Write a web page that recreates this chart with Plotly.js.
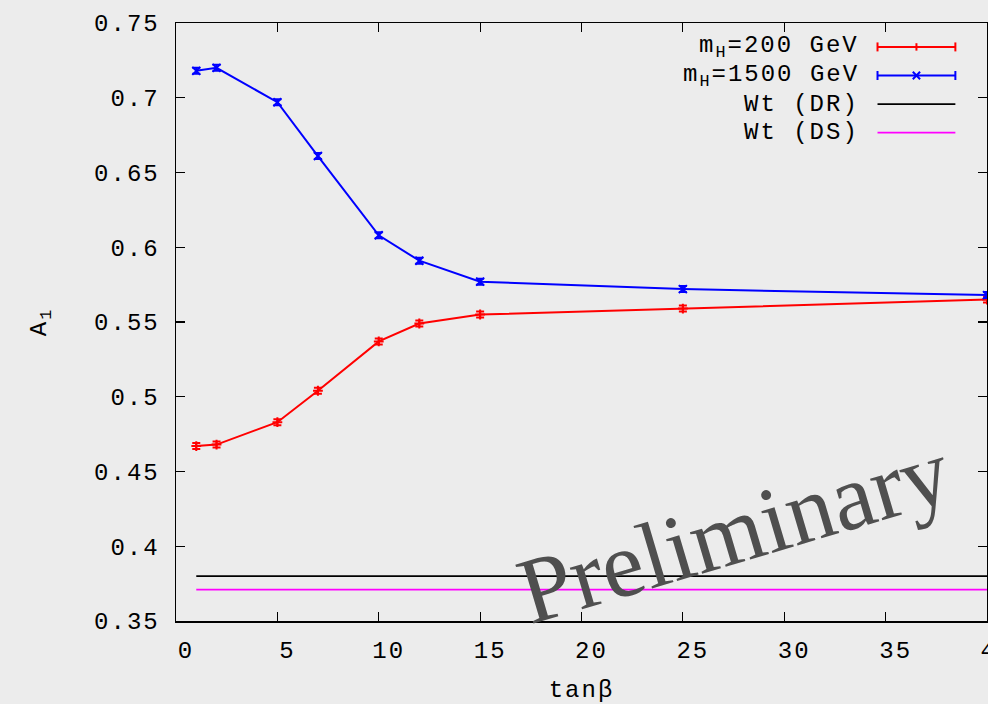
<!DOCTYPE html>
<html>
<head>
<meta charset="utf-8">
<script src="https://cdn.plot.ly/plotly-3.0.1.min.js"></script>
<style>
  html, body { margin: 0; padding: 0; background: #ececec; }
  #chart { width: 988px; height: 704px; }
  /* wide gnuplot-like spacing for the monospace labels (also applies while Plotly measures text) */
  text { letter-spacing: 2px; }
  #chart g.annotation[data-index="4"] text { letter-spacing: 0; }
</style>
</head>
<body>
<div id="chart"></div>
<script>
// tan(beta) scan points
const tanBeta = [1, 2, 5, 7, 10, 12, 15, 25, 40];

// A_1 for m_H = 200 GeV and its statistical uncertainty
const a1Mh200 = [0.467, 0.468, 0.483, 0.504, 0.537, 0.549, 0.555, 0.559, 0.565];
const a1Mh200Err = [0.002, 0.002, 0.002, 0.002, 0.002, 0.002, 0.002, 0.002, 0.002];

// A_1 for m_H = 1500 GeV and its statistical uncertainty
const a1Mh1500 = [0.718, 0.720, 0.697, 0.661, 0.608, 0.591, 0.577, 0.572, 0.568];
const a1Mh1500Err = [0.002, 0.002, 0.002, 0.002, 0.002, 0.002, 0.002, 0.002, 0.002];

// Wt reference values (diagram removal / diagram subtraction)
const wtRange = [1, 40];
const wtDR = [0.380, 0.380];
const wtDS = [0.371, 0.371];

// axis ticks
const xTicks = [0, 5, 10, 15, 20, 25, 30, 35, 40];
const yTicks = [0.35, 0.4, 0.45, 0.5, 0.55, 0.6, 0.65, 0.7, 0.75];
const yTickText = ['0.35', '0.4', '0.45', '0.5', '0.55', '0.6', '0.65', '0.7', '0.75'];

const MONO = 'Liberation Mono, DejaVu Sans Mono, monospace';
const FS = 24;
const RED = '#ff0000';
const BLUE = '#0000ff';

const traces = [
  {
    x: tanBeta, y: a1Mh200, type: 'scatter', mode: 'lines+markers',
    line: {color: RED, width: 2},
    marker: {symbol: 'cross-thin', size: 7, color: RED, line: {color: RED, width: 2}},
    error_y: {type: 'data', array: a1Mh200Err, visible: true, color: RED, thickness: 2, width: 4}
  },
  {
    x: tanBeta, y: a1Mh1500, type: 'scatter', mode: 'lines+markers',
    line: {color: BLUE, width: 2},
    marker: {symbol: 'x-thin', size: 8, color: BLUE, line: {color: BLUE, width: 2}},
    error_y: {type: 'data', array: a1Mh1500Err, visible: true, color: BLUE, thickness: 2, width: 4}
  },
  {
    x: wtRange, y: wtDR, type: 'scatter', mode: 'lines',
    line: {color: '#000000', width: 1.6}
  },
  {
    x: wtRange, y: wtDS, type: 'scatter', mode: 'lines',
    line: {color: '#ff00ff', width: 1.6}
  }
];

// key drawn gnuplot-style: label on the left, sample on the right
const keyRows = [
  {label: 'm<sub>H</sub>=200 GeV', color: RED, marker: 'plus'},
  {label: 'm<sub>H</sub>=1500 GeV', color: BLUE, marker: 'cross'},
  {label: 'Wt (DR)', color: '#000000', marker: null},
  {label: 'Wt (DS)', color: '#ff00ff', marker: null}
];
const keyTop = 0.9600, keyStep = 0.0478;
const keyTextX = 0.845, keyLineX0 = 0.865, keyLineX1 = 0.961;

const annotations = [];
const shapes = [];
keyRows.forEach((row, i) => {
  const y = keyTop - i * keyStep;
  annotations.push({
    xref: 'paper', yref: 'paper', x: keyTextX, y: y,
    xanchor: 'right', yanchor: 'middle', showarrow: false,
    text: row.label, font: {family: MONO, size: FS, color: '#000'}
  });
  const w = row.marker ? 2 : 1.6;
  shapes.push({type: 'line', xref: 'paper', yref: 'paper',
    x0: keyLineX0, x1: keyLineX1, y0: y, y1: y, line: {color: row.color, width: w}});
  if (row.marker) {
    const cap = 0.0075;
    [keyLineX0, keyLineX1].forEach(cx => shapes.push({type: 'line', xref: 'paper', yref: 'paper',
      x0: cx, x1: cx, y0: y - cap, y1: y + cap, line: {color: row.color, width: 2}}));
    const mx = (keyLineX0 + keyLineX1) / 2;
    const dx = 0.0045, dy = 0.0062;
    if (row.marker === 'plus') {
      shapes.push({type: 'line', xref: 'paper', yref: 'paper', x0: mx, x1: mx, y0: y - dy, y1: y + dy,
        line: {color: row.color, width: 2}});
    } else {
      shapes.push({type: 'line', xref: 'paper', yref: 'paper', x0: mx - dx, x1: mx + dx, y0: y - dy, y1: y + dy,
        line: {color: row.color, width: 2}});
      shapes.push({type: 'line', xref: 'paper', yref: 'paper', x0: mx - dx, x1: mx + dx, y0: y + dy, y1: y - dy,
        line: {color: row.color, width: 2}});
    }
  }
});

// watermark
annotations.push({
  xref: 'x', yref: 'y', x: 27.5, y: 0.410,
  text: 'Preliminary', showarrow: false, textangle: -16.5,
  font: {family: 'Liberation Serif, DejaVu Serif, serif', size: 94, color: '#4f4f4f'}
});

const axisCommon = {
  showline: true, linecolor: '#000', linewidth: 1.5, mirror: 'ticks',
  ticks: 'inside', ticklen: 9, tickwidth: 1.2, tickcolor: '#000',
  showgrid: false, zeroline: false,
  tickfont: {family: MONO, size: FS, color: '#000'}
};

const layout = {
  width: 988, height: 704,
  margin: {l: 176, r: 1, t: 23, b: 83},
  paper_bgcolor: '#ececec', plot_bgcolor: '#ececec',
  showlegend: false,
  xaxis: Object.assign({}, axisCommon, {
    range: [0, 40], tickvals: xTicks, ticktext: xTicks.map(String),
    ticklabelstandoff: 7, ticklabelshift: 10, ticklabeloverflow: 'allow',
    title: {text: 'tanβ', font: {family: MONO, size: FS, color: '#000'}, standoff: 18}
  }),
  yaxis: Object.assign({}, axisCommon, {
    range: [0.35, 0.75], tickvals: yTicks, ticktext: yTickText,
    ticklabelstandoff: 10,
    title: {text: 'A<sub>1</sub>', font: {family: MONO, size: FS, color: '#000'}, standoff: 40}
  }),
  annotations: annotations,
  shapes: shapes
};

Plotly.newPlot('chart', traces, layout, {displayModeBar: false, staticPlot: true});
</script>
</body>
</html>
